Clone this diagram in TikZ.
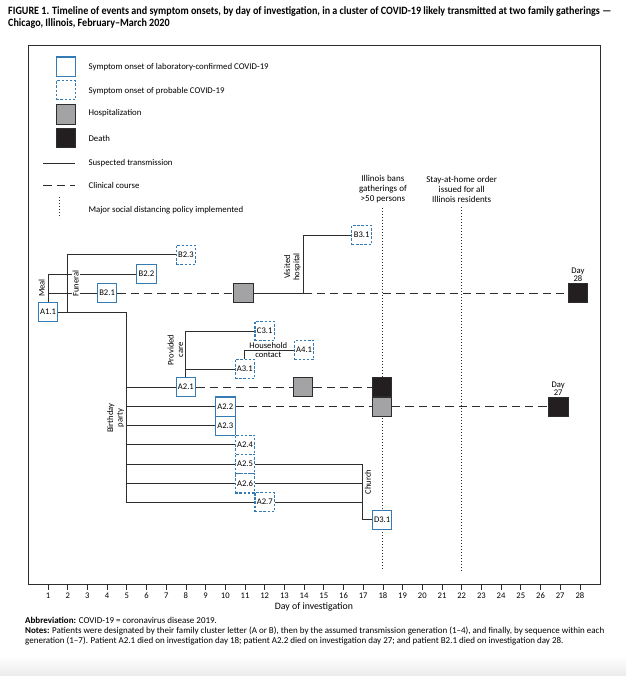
\documentclass[tikz,border=0pt]{standalone}
\usepackage{fontspec}
\setmainfont{Carlito}
\newfontfamily\titlefont{Carlito}[FakeStretch=0.9, Ligatures=TeX]
\definecolor{onsetblue}{RGB}{52,122,180}
\definecolor{hospgray}{RGB}{163,163,165}
\definecolor{deathblack}{RGB}{35,31,32}
\definecolor{inkgray}{RGB}{45,45,45}

\begin{document}
\begin{tikzpicture}[x=19.7pt, y=-1pt,
	labelfont/.style={font=\fontsize{8.6}{9.4}\selectfont},
	confirmed/.style={labelfont, draw=onsetblue, line width=1.1pt, fill=white, minimum width=19.5pt, minimum height=19.3pt, inner sep=0pt},
	probable/.style={confirmed, dash pattern=on 2.5pt off 1.7pt},
	hosp/.style={draw=inkgray, line width=0.9pt, fill=hospgray, minimum width=19.5pt, minimum height=19.3pt, inner sep=0pt},
	death/.style={hosp, fill=deathblack},
	trans/.style={draw=inkgray, line width=0.9pt},
	course/.style={trans, dash pattern=on 8.3pt off 5pt},
	policy/.style={draw=inkgray, line width=0.9pt, dash pattern=on 0.8pt off 2.2pt},
	event/.style={labelfont, rotate=90, align=center, inner sep=1pt},
	keytext/.style={font=\fontsize{8.8}{10}\selectfont, anchor=west, inner sep=0pt},
	policytext/.style={font=\fontsize{9}{10.2}\selectfont, align=center, inner sep=0pt},
	daytext/.style={font=\fontsize{8.6}{8}\selectfont, align=center, inner sep=1pt}]
	\path[use as bounding box] (-1.4365,0) rectangle (30.3401,676);
	\shade[top color=white, bottom color=black!8, draw=none] (-1.4365,656) rectangle (30.3401,676);

	% Title and frame
	\node[anchor=north west, inner sep=0pt, align=left, font=\titlefont\bfseries\fontsize{11.2}{12}\selectfont] (title) at (-1.03,6.5)
		{FIGURE 1. Timeline of events and symptom onsets, by day of investigation, in a cluster of COVID-19 likely transmitted at two family gatherings —\\Chicago, Illinois, February–March 2020};
	\draw[inkgray, line width=1pt] (0,46) rectangle (29.07,584);

	% Key
	\node[confirmed] (keyconf) at (1.91,66.7) {};
	\node[probable] (keyprob) at (1.91,90.3) {};
	\node[hosp] (keyhosp) at (1.91,114.5) {};
	\node[death] (keydeath) at (1.91,138) {};
	\draw[trans] (0.76,163.3) -- (2.37,163.3);
	\draw[course] (0.76,185) -- (2.37,185);
	\draw[policy] (1.57,197) -- (1.57,218);
	\node[keytext] (keyconftext) at (3.05,66.7) {Symptom onset of laboratory-confirmed COVID-19};
	\node[keytext] (keyprobtext) at (3.05,91.2) {Symptom onset of probable COVID-19};
	\node[keytext] (keyhosptext) at (3.05,113.5) {Hospitalization};
	\node[keytext] (keydeathtext) at (3.05,138.2) {Death};
	\node[keytext] (keytranstext) at (3.05,163.3) {Suspected transmission};
	\node[keytext] (keycoursetext) at (3.05,185) {Clinical course};
	\node[keytext] (keypolicytext) at (3.05,210) {Major social distancing policy implemented};

	% Policies, drawn first so the boxes sit on top
	\node[policytext] (ban) at (18,189.3) {Illinois bans\\gatherings of\\>50 persons};
	\node[policytext] (stay) at (22,189.3) {Stay-at-home order\\issued for all\\Illinois residents};
	\coordinate (banfoot) at (18,570);
	\coordinate (stayfoot) at (22,570);
	\draw[policy] (ban.south) ++(0,4) -- (banfoot);
	\draw[policy] (stay.south) ++(0,4) -- (stayfoot);

	% Family B, meal and funeral
	\coordinate (funeral) at (2,0);
	\coordinate (visit) at (13.96,0);
	\node[confirmed] (A11) at (1,312) {A1.1};
	\node[confirmed] (B21) at (4,293) {B2.1};
	\node[confirmed] (B22) at (6,274) {B2.2};
	\node[probable] (B23) at (8,254.7) {B2.3};
	\node[probable] (B31) at (16.92,235) {B3.1};
	\node[hosp] (B21hosp) at (10.92,293) {};
	\node[death] (B21death) at (27.9,293) {};
	\draw[trans] (A11.north) |- (B22.west);
	\draw[trans] (A11 |- B21) -- (B21.west);
	\draw[trans] (funeral |- A11.east) |- (B23.west);
	\draw[course] (B21) -- (B21hosp);
	\draw[trans] (B21hosp) -- (visit |- B21hosp) |- (B31.west);
	\draw[course] (visit |- B21hosp) -- (B21death);
	\node[event] (meal) at (0.68,288) {Meal};
	\node[event, fill=white] (funerallabel) at (2.40,283.7) {Funeral};
	\node[event] (visitlabel) at (13.41,267) {Visited\\hospital};
	\node[daytext, above] (B21day) at (B21death.north) {Day\\28};

	% Family A, birthday party
	\coordinate (party) at (4.96,0);
	\coordinate (church) at (16.97,0);
	\node[confirmed] (A21) at (8,387.2) {A2.1};
	\node[confirmed] (A22) at (10,406.6) {A2.2};
	\node[confirmed] (A23) at (10,425.8) {A2.3};
	\node[probable] (A24) at (11,444.9) {A2.4};
	\node[probable] (A25) at (11,464.1) {A2.5};
	\node[probable] (A26) at (11,483.3) {A2.6};
	\node[probable] (A27) at (12,502.2) {A2.7};
	\draw[trans] (A11.east) -| (party |- A27);
	\draw[trans] (party |- A21) -- (A21.west);
	\draw[trans] (party |- A22) -- (A22.west);
	\draw[trans] (party |- A23) -- (A23.west);
	\draw[trans] (party |- A24) -- (A24.west);
	\draw[trans] (party |- A25) -- (A25.west);
	\draw[trans] (party |- A26) -- (A26.west);
	\draw[trans] (party |- A27) -- (A27.west);
	\node[event] (partylabel) at (4.43,418) {Birthday\\party};

	% Care at home
	\node[probable] (C31) at (12,331) {C3.1};
	\node[probable] (A31) at (10.99,369) {A3.1};
	\node[probable] (A41) at (14,350) {A4.1};
	\draw[trans] (A21.north) |- (C31.west);
	\draw[trans] (A21.north |- A31) -- (A31.west);
	\draw[trans] (A31.north) |- (A41.west);
	\node[event] (carelabel) at (7.47,350) {Provided\\care};
	\node[align=center, inner sep=0pt, font=\fontsize{8.6}{9}\selectfont] (contactlabel) at (12.18,350) {Household\\contact};

	% Clinical course of A2.1 and A2.2
	\node[hosp] (A21hosp) at (13.95,387.2) {};
	\node[death] (A21death) at (17.95,387.2) {};
	\node[hosp] (A22hosp) at (17.95,406.6) {};
	\node[death] (A22death) at (26.9,406.6) {};
	\draw[course] (A21) -- (A21hosp);
	\draw[course] (A21hosp) -- (A21death);
	\draw[course] (A22) -- (A22hosp);
	\draw[course] (A22hosp) -- (A22death);
	\node[daytext, above] (A22day) at (A22death.north) {Day\\27};

	% Church
	\node[confirmed] (D31) at (17.96,519.7) {D3.1};
	\draw[trans] (A25.east) -- (church |- A25) |- (D31.west);
	\draw[trans] (A26.east) -- (church |- A26);
	\draw[trans] (A27.east) -- (church |- A27);
	\node[event] (churchlabel) at (17.24,482) {Church};

	% Axis
	\foreach \d in {1,...,28} {
		\draw[inkgray, line width=0.8pt] (\d,584) -- (\d,590);
		\node[labelfont, inner sep=0pt] (day\d) at (\d,596) {\d};
	}
	\node[font=\fontsize{9.8}{10}\selectfont, inner sep=0pt] (axislabel) at (14.5,606.5) {Day of investigation};

	% Notes
	\node[anchor=north west, inner sep=0pt, align=left, font=\fontsize{9}{10.4}\selectfont] (notes) at (-0.17,616.5)
		{\textbf{Abbreviation:} COVID-19 = coronavirus disease 2019.\\
		\textbf{Notes:} Patients were designated by their family cluster letter (A or B), then by the assumed transmission generation (1–4), and finally, by sequence within each\\
		generation (1–7). Patient A2.1 died on investigation day 18; patient A2.2 died on investigation day 27; and patient B2.1 died on investigation day 28.};
\end{tikzpicture}
\end{document}
